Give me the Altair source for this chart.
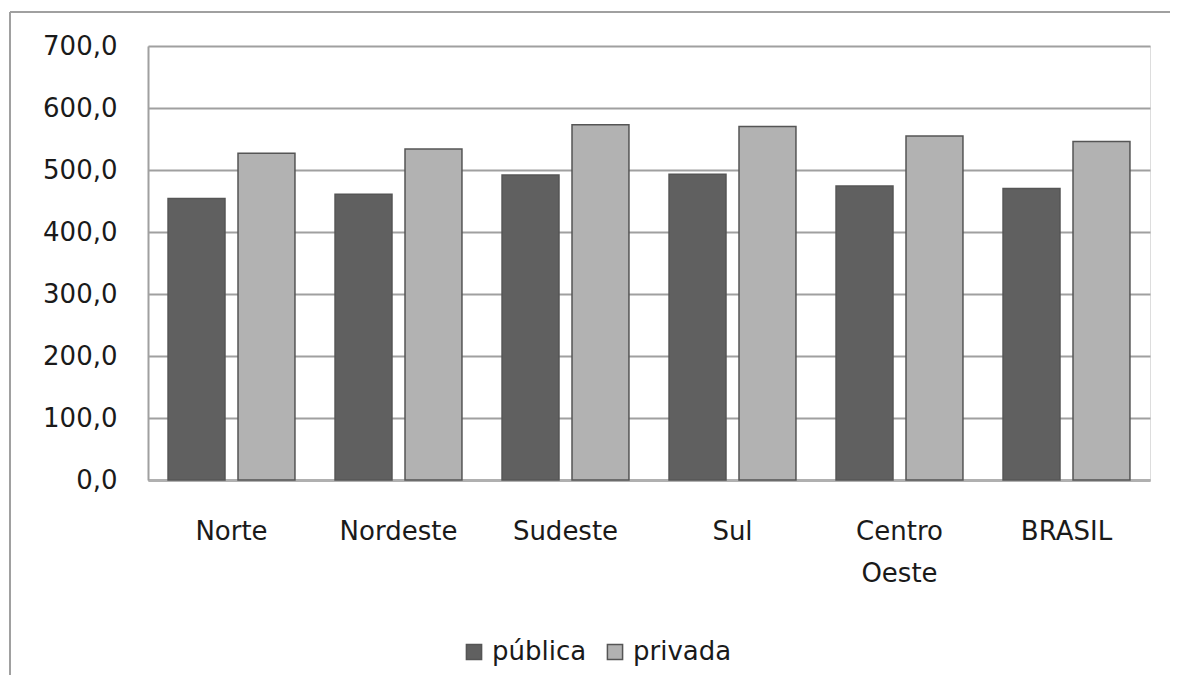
import altair as alt
import pandas as pd

regions = ["Norte", "Nordeste", "Sudeste", "Sul", "Centro Oeste", "BRASIL"]
publica = [454, 461, 492, 493, 474, 470]
privada = [527, 534, 573, 570, 555, 546]
series = ["pública", "privada"]
y_ticks = [0, 100, 200, 300, 400, 500, 600, 700]

rows = []
for r, a, b in zip(regions, publica, privada):
    rows.append({"regiao": r, "tipo": series[0], "valor": a})
    rows.append({"regiao": r, "tipo": series[1], "valor": b})
df = pd.DataFrame(rows)

FONT = "DejaVu Sans"
GRID = "#a0a0a0"
FS = 26

bars = alt.Chart(df).mark_bar(stroke="#555555", strokeWidth=1.5).encode(
    x=alt.X("regiao:N", sort=regions, title=None,
            scale=alt.Scale(paddingInner=0.24, paddingOuter=0.12),
            axis=alt.Axis(labelAngle=0, ticks=False, labelPadding=38,
                          labelFont=FONT, labelFontSize=FS, labelColor="#1a1a1a",
                          labelLineHeight=42, labelBaseline="top",
                          labelExpr="datum.label == 'Centro Oeste' ? ['Centro', 'Oeste'] : datum.label",
                          domainColor="#b0b0b0", domainWidth=3)),
    xOffset=alt.XOffset("tipo:N", sort=series,
                        scale=alt.Scale(paddingInner=0.186, paddingOuter=0)),
    y=alt.Y("valor:Q", title=None,
            scale=alt.Scale(domain=[0, 700], nice=False),
            axis=alt.Axis(values=y_ticks, ticks=False, labelPadding=31,
                          labelFont=FONT, labelFontSize=FS, labelColor="#1a1a1a",
                          labelExpr="replace(format(datum.value, '.1f'), '.', ',')",
                          grid=True, gridColor=GRID, gridWidth=2,
                          domainColor=GRID, domainWidth=2)),
    color=alt.Color("tipo:N", sort=series,
                    scale=alt.Scale(domain=series, range=["#606060", "#b2b2b2"]),
                    legend=alt.Legend(title=None, orient="none", direction="horizontal",
                                      legendX=313, legendY=593,
                                      symbolType="square", symbolSize=230,
                                      symbolStrokeColor="#555555", symbolStrokeWidth=1.5,
                                      labelFont=FONT, labelFontSize=FS, labelColor="#1a1a1a",
                                      columnPadding=15, labelOffset=5)),
)

border_data = alt.Data(values=[{"k": 1}])
top_border = alt.Chart(border_data).mark_rule(color=GRID, strokeWidth=2).encode(
    x=alt.value(-138), x2=alt.value(1030), y=alt.value(-34))
left_border = alt.Chart(border_data).mark_rule(color=GRID, strokeWidth=2).encode(
    x=alt.value(-138), y=alt.value(-34), y2=alt.value(660))

chart = alt.layer(bars, top_border, left_border).properties(
    width=1002, height=434,
    autosize=alt.AutoSizeParams(type="none"),
    padding={"left": 140, "top": 38, "right": 20, "bottom": 195},
).configure_view(stroke=None).configure(background="white")

chart.save("out.html", embed_options={"renderer": "svg", "actions": False})
